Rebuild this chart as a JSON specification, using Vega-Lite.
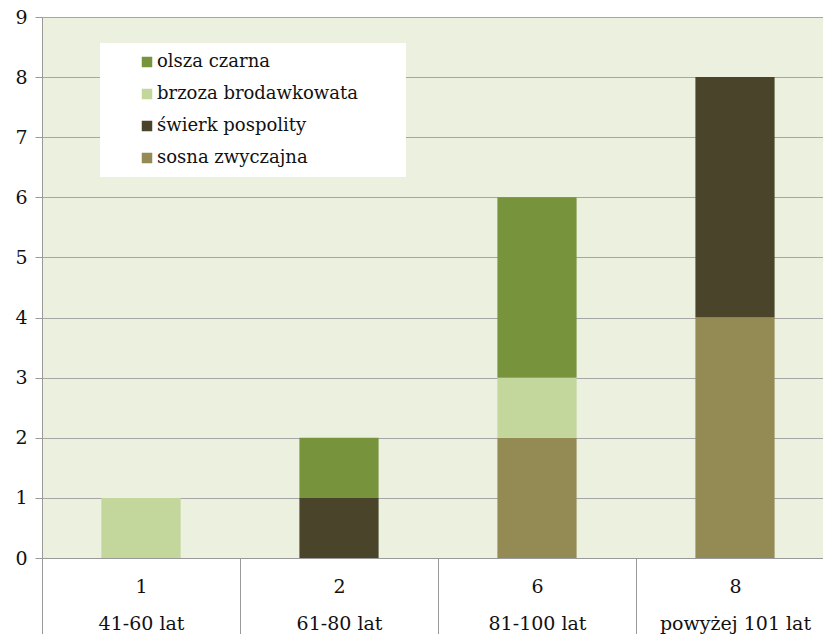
{
  "$schema": "https://vega.github.io/schema/vega-lite/v6.json",
  "autosize": "none",
  "width": 792,
  "height": 541,
  "padding": {"left": 42, "top": 17, "right": 0, "bottom": 76},
  "background": "white",
  "config": {
    "font": "DejaVu Serif",
    "view": {"fill": "#EBF1DE", "stroke": null}
  },
  "data": {
    "values": [
      {"kategoria": "1|41-60 lat", "gatunek": "brzoza brodawkowata", "liczba": 1},
      {"kategoria": "2|61-80 lat", "gatunek": "świerk pospolity", "liczba": 1},
      {"kategoria": "2|61-80 lat", "gatunek": "olsza czarna", "liczba": 1},
      {"kategoria": "6|81-100 lat", "gatunek": "sosna zwyczajna", "liczba": 2},
      {"kategoria": "6|81-100 lat", "gatunek": "brzoza brodawkowata", "liczba": 1},
      {"kategoria": "6|81-100 lat", "gatunek": "olsza czarna", "liczba": 3},
      {"kategoria": "8|powyżej 101 lat", "gatunek": "sosna zwyczajna", "liczba": 4},
      {"kategoria": "8|powyżej 101 lat", "gatunek": "świerk pospolity", "liczba": 4}
    ]
  },
  "transform": [
    {"calculate": "indexof(['sosna zwyczajna','świerk pospolity','brzoza brodawkowata','olsza czarna'], datum.gatunek)", "as": "kolejnosc"}
  ],
  "mark": {"type": "bar", "width": {"band": 0.4}},
  "encoding": {
    "x": {
      "field": "kategoria",
      "type": "nominal",
      "sort": null,
      "scale": {"paddingInner": 0, "paddingOuter": 0},
      "axis": {
        "title": null,
        "labelAngle": 0,
        "labelExpr": "datum.value ? split(datum.value, '|') : ''",
        "labelFontSize": 19,
        "labelColor": "#111",
        "labelLineHeight": 37,
        "labelPadding": -57,
        "labelBaseline": "top",
        "tickBand": "extent",
        "tickSize": 76,
        "tickColor": "#999",
        "domainColor": "#999",
        "grid": false
      }
    },
    "y": {
      "field": "liczba",
      "type": "quantitative",
      "aggregate": "sum",
      "stack": "zero",
      "scale": {"domain": [0, 9], "nice": false},
      "axis": {
        "title": null,
        "values": [0,1,2,3,4,5,6,7,8,9],
        "labelFontSize": 19,
        "labelColor": "#111",
        "labelPadding": 8,
        "tickSize": 7,
        "tickColor": "#999",
        "domainColor": "#999",
        "gridColor": "#a6a6a6",
        "grid": true
      }
    },
    "color": {
      "field": "gatunek",
      "type": "nominal",
      "scale": {
        "domain": ["olsza czarna", "brzoza brodawkowata", "świerk pospolity", "sosna zwyczajna"],
        "range": ["#77933C", "#C3D69B", "#4A452A", "#948A54"]
      },
      "legend": {
        "title": "\u2003",
        "titleOrient": "right",
        "titleFontSize": 12,
        "titlePadding": 38,
        "orient": "none",
        "legendX": 58,
        "legendY": 26,
        "fillColor": "white",
        "padding": 10,
        "symbolType": "square",
        "symbolSize": 110,
        "symbolOffset": 28,
        "labelFontSize": 18,
        "labelColor": "#111",
        "labelOffset": 1,
        "rowPadding": 14,
        "labelLimit": 400
      }
    },
    "order": {"field": "kolejnosc", "type": "quantitative"}
  }
}
